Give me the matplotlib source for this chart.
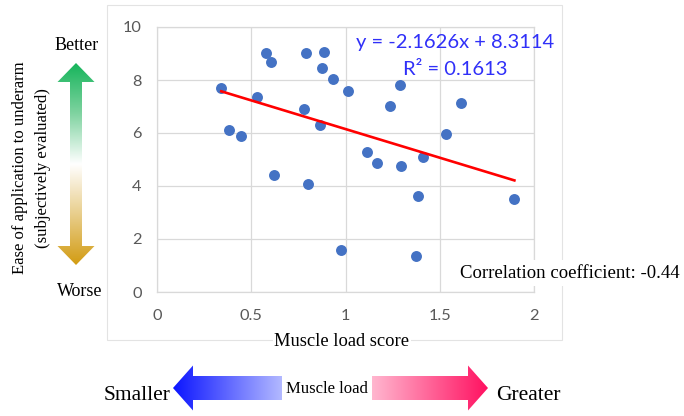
import numpy as np
import matplotlib
matplotlib.use("Agg")
import matplotlib.pyplot as plt
from matplotlib.patches import Polygon, Rectangle

# Datos
muscle_load = [0.341, 0.383, 0.445, 0.533, 0.579, 0.605, 0.620, 0.791, 0.780,
               0.803, 0.884, 0.874, 0.863, 0.932, 1.013, 0.978, 1.112, 1.165,
               1.237, 1.290, 1.294, 1.412, 1.387, 1.372, 1.532, 1.613, 1.896]
ease_score = [7.69, 6.13, 5.88, 7.35, 9.02, 8.67, 4.40, 9.02, 6.91,
              4.07, 9.05, 8.45, 6.32, 8.02, 7.58, 1.57, 5.29, 4.85,
              7.02, 7.80, 4.77, 5.08, 3.63, 1.34, 5.95, 7.14, 3.52]
slope, intercept = -2.1626, 8.3114
r2 = 0.1613
corr = -0.44
x_ticks = [0, 0.5, 1, 1.5, 2]
x_tick_labels = ["0", "0.5", "1", "1.5", "2"]
y_ticks = [0, 2, 4, 6, 8, 10]

SERIF = "Liberation Serif"
SANS = "Lato"

W, H = 684, 416
fig = plt.figure(figsize=(W / 100, H / 100), dpi=100)

# Área del gráfico principal
ax = fig.add_axes([157 / W, 1 - 292 / H, 377 / W, 265 / H])
ax.scatter(muscle_load, ease_score, s=62, color="#4472C4", zorder=3, linewidths=0)
xs = np.array([min(muscle_load), max(muscle_load)])
ax.plot(xs, slope * xs + intercept, color="#FF0000", lw=1.9, zorder=4)
ax.set_xlim(0, 2)
ax.set_ylim(0, 10)
ax.set_xticks(x_ticks)
ax.set_xticklabels(x_tick_labels)
ax.set_yticks(y_ticks)
ax.grid(True, color="#D9D9D9", lw=0.9, zorder=0)
for sp in ax.spines.values():
    sp.set_color("#D9D9D9")
    sp.set_linewidth(0.9)
ax.tick_params(length=0, colors="#595959", labelsize=11.8)
ax.tick_params(axis="y", pad=11)
ax.tick_params(axis="x", pad=12)
for lab in ax.get_xticklabels() + ax.get_yticklabels():
    lab.set_fontfamily(SANS)
eq_text = f"y = {slope:.4f}x + {intercept:.4f}"
ax.text(1.58, 9.4, eq_text, color="#3030F8", fontsize=14.5, family=SANS,
        ha="center", va="center", zorder=5)
ax.text(1.58, 8.4, f"R² = {r2:.4f}", color="#3030F8", fontsize=14.5, family=SANS,
        ha="center", va="center", zorder=5)

# Capa superpuesta en coordenadas de píxel
ov = fig.add_axes([0, 0, 1, 1], zorder=2)
ov.set_xlim(0, W)
ov.set_ylim(H, 0)
ov.axis("off")

# Borde del área del gráfico
ov.add_patch(Rectangle((107, 5), 455, 335, fill=False, ec="#E3E3E3", lw=0.8))


def gradient_arrow(points, colors, vertical, extent):
    poly = Polygon(points, closed=True, fc="none", ec="none")
    ov.add_patch(poly)
    n = 256
    t = np.linspace(0, 1, n)
    stops = np.linspace(0, 1, len(colors))
    rgb = np.array([matplotlib.colors.to_rgb(c) for c in colors])
    grad = np.stack([np.interp(t, stops, rgb[:, i]) for i in range(3)], axis=-1)
    img = grad[:, None, :] if vertical else grad[None, :, :]
    im = ov.imshow(img, extent=extent, aspect="auto", origin="upper",
                   interpolation="bilinear")
    im.set_clip_path(poly)


# Flecha vertical (mejor / peor)
cx = 76
vert_pts = [(cx, 63), (cx + 18.5, 82), (cx + 6, 82), (cx + 6, 246), (cx + 18.5, 246),
            (cx, 265), (cx - 18.5, 246), (cx - 6, 246), (cx - 6, 82), (cx - 18.5, 82)]
gradient_arrow(vert_pts, ["#14B45A", "#7FD3A0", "#FFFFFF", "#E8CD8A", "#D29B10"],
               True, (cx - 19, cx + 19, 266, 62))

# Flechas horizontales (carga muscular)
cy = 388
left_pts = [(173, cy), (193, cy - 22.5), (193, cy - 12), (282, cy - 12),
            (282, cy + 12), (193, cy + 12), (193, cy + 22.5)]
gradient_arrow(left_pts, ["#0A14FF", "#B4BAFF"], False, (172, 283, cy + 23, cy - 23))
right_pts = [(372, cy - 12), (468, cy - 12), (468, cy - 22.5), (488, cy),
             (468, cy + 22.5), (468, cy + 12), (372, cy + 12)]
gradient_arrow(right_pts, ["#FFB8D0", "#FF1060"], False, (371, 489, cy + 23, cy - 23))

white_box = dict(facecolor="white", edgecolor="none", pad=1)
ov.text(77, 45, "Better", family=SERIF, fontsize=13, ha="center", va="center", bbox=white_box)
ov.text(80, 292, "Worse", family=SERIF, fontsize=13, ha="center", va="center", bbox=white_box)
ov.text(20, 168, "Ease of application to underarm", family=SERIF, fontsize=12,
        rotation=90, ha="center", va="center")
ov.text(43, 168, "(subjectively evaluated)", family=SERIF, fontsize=12,
        rotation=90, ha="center", va="center")
ov.text(342, 342, "Muscle load score", family=SERIF, fontsize=13.3,
        ha="center", va="center", bbox=white_box)
ov.text(460, 273, f"Correlation coefficient: {corr:.2f}", family=SERIF, fontsize=13.5,
        ha="left", va="center", bbox=dict(facecolor="white", edgecolor="none", pad=3))
ov.text(327, 389, "Muscle load", family=SERIF, fontsize=12, ha="center", va="center")
ov.text(137, 395, "Smaller", family=SERIF, fontsize=15.5, ha="center", va="center")
ov.text(528, 395, "Greater", family=SERIF, fontsize=15.5, ha="center", va="center")

fig.savefig("out.png", dpi=100)
